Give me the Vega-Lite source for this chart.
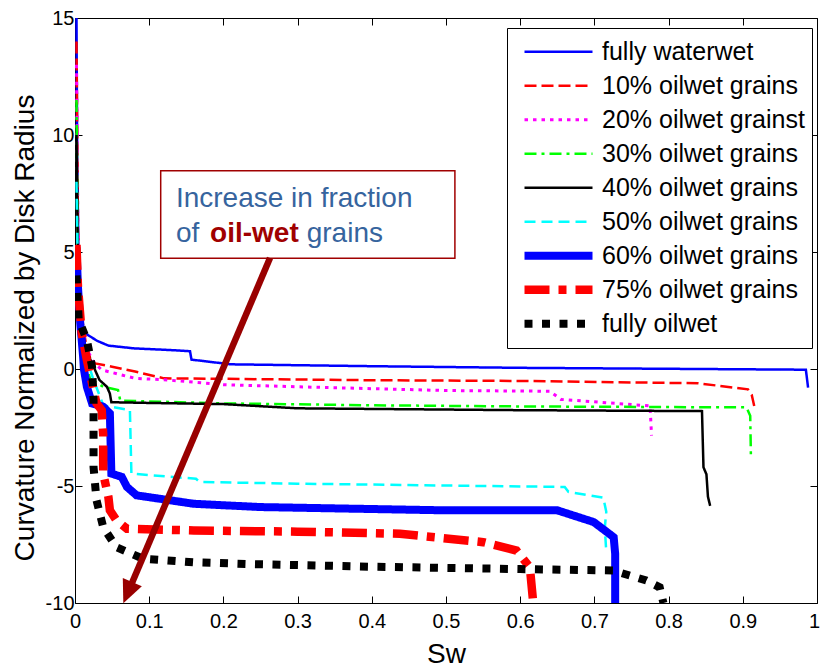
{
  "$schema": "https://vega.github.io/schema/vega-lite/v6.json",
  "width": 742,
  "height": 585,
  "autosize": {"type": "none"},
  "padding": {"left": 75, "top": 18, "right": 3, "bottom": 65},
  "background": "white",
  "config": {
    "view": {"stroke": "black", "strokeWidth": 1},
    "font": "Liberation Sans",
    "legend": {
      "title": null, "orient": "none", "legendX": 432, "legendY": 10,
      "labelFontSize": 25, "labelFont": "Liberation Sans", "labelColor": "black", "labelLimit": 400,
      "symbolType": "stroke", "symbolSize": 4624, "labelOffset": 5, "symbolOffset": 6,
      "clipHeight": 33.7, "rowPadding": 0,
      "strokeColor": "black", "fillColor": "white", "padding": 7
    }
  },
  "datasets": {
    "curves": [
      {"s":"fully waterwet","i":1,"sw":0.002,"c":15},
      {"s":"fully waterwet","i":2,"sw":0.003,"c":9},
      {"s":"fully waterwet","i":3,"sw":0.005,"c":4},
      {"s":"fully waterwet","i":4,"sw":0.008,"c":2},
      {"s":"fully waterwet","i":5,"sw":0.01,"c":1.6},
      {"s":"fully waterwet","i":6,"sw":0.02,"c":1.4},
      {"s":"fully waterwet","i":7,"sw":0.03,"c":1.2},
      {"s":"fully waterwet","i":8,"sw":0.045,"c":1.0},
      {"s":"fully waterwet","i":9,"sw":0.08,"c":0.88},
      {"s":"fully waterwet","i":10,"sw":0.135,"c":0.8},
      {"s":"fully waterwet","i":11,"sw":0.155,"c":0.76},
      {"s":"fully waterwet","i":12,"sw":0.157,"c":0.4},
      {"s":"fully waterwet","i":13,"sw":0.21,"c":0.2},
      {"s":"fully waterwet","i":14,"sw":0.4,"c":0.12},
      {"s":"fully waterwet","i":15,"sw":0.6,"c":0.05},
      {"s":"fully waterwet","i":16,"sw":0.985,"c":-0.03},
      {"s":"fully waterwet","i":17,"sw":0.988,"c":-0.8},

      {"s":"10% oilwet grains","i":1,"sw":0.002,"c":14},
      {"s":"10% oilwet grains","i":2,"sw":0.004,"c":6},
      {"s":"10% oilwet grains","i":3,"sw":0.008,"c":2.5},
      {"s":"10% oilwet grains","i":4,"sw":0.014,"c":1.2},
      {"s":"10% oilwet grains","i":5,"sw":0.02,"c":0.5},
      {"s":"10% oilwet grains","i":6,"sw":0.027,"c":0.24},
      {"s":"10% oilwet grains","i":7,"sw":0.05,"c":0.1},
      {"s":"10% oilwet grains","i":8,"sw":0.081,"c":-0.11},
      {"s":"10% oilwet grains","i":9,"sw":0.12,"c":-0.4},
      {"s":"10% oilwet grains","i":10,"sw":0.2,"c":-0.42},
      {"s":"10% oilwet grains","i":11,"sw":0.4,"c":-0.48},
      {"s":"10% oilwet grains","i":12,"sw":0.6,"c":-0.51},
      {"s":"10% oilwet grains","i":13,"sw":0.84,"c":-0.61},
      {"s":"10% oilwet grains","i":14,"sw":0.907,"c":-0.87},
      {"s":"10% oilwet grains","i":15,"sw":0.912,"c":-1.1},
      {"s":"10% oilwet grains","i":16,"sw":0.916,"c":-1.67},

      {"s":"20% oilwet grainst","i":1,"sw":0.002,"c":13},
      {"s":"20% oilwet grainst","i":2,"sw":0.004,"c":6},
      {"s":"20% oilwet grainst","i":3,"sw":0.008,"c":2.3},
      {"s":"20% oilwet grainst","i":4,"sw":0.015,"c":0.9},
      {"s":"20% oilwet grainst","i":5,"sw":0.025,"c":0.3},
      {"s":"20% oilwet grainst","i":6,"sw":0.036,"c":-0.04},
      {"s":"20% oilwet grainst","i":7,"sw":0.081,"c":-0.4},
      {"s":"20% oilwet grainst","i":8,"sw":0.125,"c":-0.47},
      {"s":"20% oilwet grainst","i":9,"sw":0.2,"c":-0.67},
      {"s":"20% oilwet grainst","i":10,"sw":0.3,"c":-0.76},
      {"s":"20% oilwet grainst","i":11,"sw":0.5,"c":-0.92},
      {"s":"20% oilwet grainst","i":12,"sw":0.64,"c":-0.95},
      {"s":"20% oilwet grainst","i":13,"sw":0.655,"c":-1.3},
      {"s":"20% oilwet grainst","i":14,"sw":0.775,"c":-1.58},
      {"s":"20% oilwet grainst","i":15,"sw":0.777,"c":-2.85},

      {"s":"30% oilwet grains","i":1,"sw":0.002,"c":11.5},
      {"s":"30% oilwet grains","i":2,"sw":0.004,"c":5},
      {"s":"30% oilwet grains","i":3,"sw":0.008,"c":2},
      {"s":"30% oilwet grains","i":4,"sw":0.013,"c":0.5},
      {"s":"30% oilwet grains","i":5,"sw":0.02,"c":-0.4},
      {"s":"30% oilwet grains","i":6,"sw":0.038,"c":-0.76},
      {"s":"30% oilwet grains","i":7,"sw":0.058,"c":-0.9},
      {"s":"30% oilwet grains","i":8,"sw":0.061,"c":-1.35},
      {"s":"30% oilwet grains","i":9,"sw":0.2,"c":-1.47},
      {"s":"30% oilwet grains","i":10,"sw":0.4,"c":-1.55},
      {"s":"30% oilwet grains","i":11,"sw":0.6,"c":-1.6},
      {"s":"30% oilwet grains","i":12,"sw":0.905,"c":-1.64},
      {"s":"30% oilwet grains","i":13,"sw":0.91,"c":-2.0},
      {"s":"30% oilwet grains","i":14,"sw":0.911,"c":-3.85},

      {"s":"40% oilwet grains","i":1,"sw":0.002,"c":10},
      {"s":"40% oilwet grains","i":2,"sw":0.004,"c":4.5},
      {"s":"40% oilwet grains","i":3,"sw":0.008,"c":2},
      {"s":"40% oilwet grains","i":4,"sw":0.015,"c":0.8},
      {"s":"40% oilwet grains","i":5,"sw":0.025,"c":0.1},
      {"s":"40% oilwet grains","i":6,"sw":0.033,"c":-0.47},
      {"s":"40% oilwet grains","i":7,"sw":0.043,"c":-0.76},
      {"s":"40% oilwet grains","i":8,"sw":0.047,"c":-1.05},
      {"s":"40% oilwet grains","i":9,"sw":0.049,"c":-1.42},
      {"s":"40% oilwet grains","i":10,"sw":0.1,"c":-1.45},
      {"s":"40% oilwet grains","i":11,"sw":0.2,"c":-1.5},
      {"s":"40% oilwet grains","i":12,"sw":0.3,"c":-1.68},
      {"s":"40% oilwet grains","i":13,"sw":0.6,"c":-1.76},
      {"s":"40% oilwet grains","i":14,"sw":0.845,"c":-1.8},
      {"s":"40% oilwet grains","i":15,"sw":0.847,"c":-4.2},
      {"s":"40% oilwet grains","i":16,"sw":0.851,"c":-4.5},
      {"s":"40% oilwet grains","i":17,"sw":0.853,"c":-5.45},
      {"s":"40% oilwet grains","i":18,"sw":0.856,"c":-5.85},

      {"s":"50% oilwet grains","i":1,"sw":0.002,"c":8},
      {"s":"50% oilwet grains","i":2,"sw":0.004,"c":4},
      {"s":"50% oilwet grains","i":3,"sw":0.008,"c":1.8},
      {"s":"50% oilwet grains","i":4,"sw":0.015,"c":0.5},
      {"s":"50% oilwet grains","i":5,"sw":0.025,"c":-0.47},
      {"s":"50% oilwet grains","i":6,"sw":0.034,"c":-1.2},
      {"s":"50% oilwet grains","i":7,"sw":0.038,"c":-1.55},
      {"s":"50% oilwet grains","i":8,"sw":0.074,"c":-1.76},
      {"s":"50% oilwet grains","i":9,"sw":0.076,"c":-4.47},
      {"s":"50% oilwet grains","i":10,"sw":0.105,"c":-4.55},
      {"s":"50% oilwet grains","i":11,"sw":0.163,"c":-4.69},
      {"s":"50% oilwet grains","i":12,"sw":0.168,"c":-4.83},
      {"s":"50% oilwet grains","i":13,"sw":0.3,"c":-4.9},
      {"s":"50% oilwet grains","i":14,"sw":0.5,"c":-4.98},
      {"s":"50% oilwet grains","i":15,"sw":0.66,"c":-5.04},
      {"s":"50% oilwet grains","i":16,"sw":0.665,"c":-5.25},
      {"s":"50% oilwet grains","i":17,"sw":0.712,"c":-5.5},
      {"s":"50% oilwet grains","i":18,"sw":0.716,"c":-6.1},
      {"s":"50% oilwet grains","i":19,"sw":0.714,"c":-6.8},
      {"s":"50% oilwet grains","i":20,"sw":0.716,"c":-7.8},

      {"s":"60% oilwet grains","i":1,"sw":0.002,"c":5.2},
      {"s":"60% oilwet grains","i":2,"sw":0.004,"c":3.5},
      {"s":"60% oilwet grains","i":3,"sw":0.007,"c":2.0},
      {"s":"60% oilwet grains","i":4,"sw":0.011,"c":0.5},
      {"s":"60% oilwet grains","i":5,"sw":0.012,"c":0},
      {"s":"60% oilwet grains","i":6,"sw":0.016,"c":-0.76},
      {"s":"60% oilwet grains","i":7,"sw":0.023,"c":-1.47},
      {"s":"60% oilwet grains","i":8,"sw":0.038,"c":-1.61},
      {"s":"60% oilwet grains","i":9,"sw":0.047,"c":-1.9},
      {"s":"60% oilwet grains","i":10,"sw":0.049,"c":-4.47},
      {"s":"60% oilwet grains","i":11,"sw":0.063,"c":-4.61},
      {"s":"60% oilwet grains","i":12,"sw":0.07,"c":-5.04},
      {"s":"60% oilwet grains","i":13,"sw":0.083,"c":-5.4},
      {"s":"60% oilwet grains","i":14,"sw":0.16,"c":-5.76},
      {"s":"60% oilwet grains","i":15,"sw":0.25,"c":-5.9},
      {"s":"60% oilwet grains","i":16,"sw":0.5,"c":-6.04},
      {"s":"60% oilwet grains","i":17,"sw":0.65,"c":-6.04},
      {"s":"60% oilwet grains","i":18,"sw":0.699,"c":-6.54},
      {"s":"60% oilwet grains","i":19,"sw":0.717,"c":-6.97},
      {"s":"60% oilwet grains","i":20,"sw":0.726,"c":-7.19},
      {"s":"60% oilwet grains","i":21,"sw":0.728,"c":-7.9},
      {"s":"60% oilwet grains","i":22,"sw":0.728,"c":-10},

      {"s":"75% oilwet grains","i":1,"sw":0.002,"c":5.3},
      {"s":"75% oilwet grains","i":2,"sw":0.004,"c":3.5},
      {"s":"75% oilwet grains","i":3,"sw":0.009,"c":1.53},
      {"s":"75% oilwet grains","i":4,"sw":0.016,"c":0.39},
      {"s":"75% oilwet grains","i":5,"sw":0.023,"c":-0.61},
      {"s":"75% oilwet grains","i":6,"sw":0.029,"c":-1.47},
      {"s":"75% oilwet grains","i":7,"sw":0.036,"c":-1.76},
      {"s":"75% oilwet grains","i":8,"sw":0.038,"c":-2.8},
      {"s":"75% oilwet grains","i":9,"sw":0.038,"c":-4.47},
      {"s":"75% oilwet grains","i":10,"sw":0.045,"c":-5.47},
      {"s":"75% oilwet grains","i":11,"sw":0.047,"c":-6.04},
      {"s":"75% oilwet grains","i":12,"sw":0.056,"c":-6.47},
      {"s":"75% oilwet grains","i":13,"sw":0.07,"c":-6.83},
      {"s":"75% oilwet grains","i":14,"sw":0.16,"c":-6.9},
      {"s":"75% oilwet grains","i":15,"sw":0.3,"c":-6.95},
      {"s":"75% oilwet grains","i":16,"sw":0.438,"c":-7.04},
      {"s":"75% oilwet grains","i":17,"sw":0.55,"c":-7.4},
      {"s":"75% oilwet grains","i":18,"sw":0.595,"c":-7.76},
      {"s":"75% oilwet grains","i":19,"sw":0.613,"c":-8.47},
      {"s":"75% oilwet grains","i":20,"sw":0.617,"c":-9.8},

      {"s":"fully oilwet","i":1,"sw":0.002,"c":4},
      {"s":"fully oilwet","i":2,"sw":0.005,"c":2.1},
      {"s":"fully oilwet","i":3,"sw":0.016,"c":1.24},
      {"s":"fully oilwet","i":4,"sw":0.023,"c":0.1},
      {"s":"fully oilwet","i":5,"sw":0.025,"c":-1.33},
      {"s":"fully oilwet","i":6,"sw":0.025,"c":-4.19},
      {"s":"fully oilwet","i":7,"sw":0.029,"c":-5.61},
      {"s":"fully oilwet","i":8,"sw":0.038,"c":-6.76},
      {"s":"fully oilwet","i":9,"sw":0.056,"c":-7.62},
      {"s":"fully oilwet","i":10,"sw":0.092,"c":-8.11},
      {"s":"fully oilwet","i":11,"sw":0.16,"c":-8.26},
      {"s":"fully oilwet","i":12,"sw":0.23,"c":-8.33},
      {"s":"fully oilwet","i":13,"sw":0.4,"c":-8.45},
      {"s":"fully oilwet","i":14,"sw":0.6,"c":-8.55},
      {"s":"fully oilwet","i":15,"sw":0.725,"c":-8.61},
      {"s":"fully oilwet","i":16,"sw":0.77,"c":-9.04},
      {"s":"fully oilwet","i":17,"sw":0.788,"c":-9.33},
      {"s":"fully oilwet","i":18,"sw":0.793,"c":-10}
    ],
    "box": [{"x1": 0.1155, "x2": 0.512, "y1": 8.47, "y2": 4.73}],
    "arrow": [{"x1": 0.2628, "y1": 4.74, "x2": 0.0712, "y2": -9.56}],
    "blueText": [
      {"t": "Increase in fraction", "ax": 0.136, "ay": 6.94},
      {"t": "of", "ax": 0.136, "ay": 5.44},
      {"t": "grains", "ax": 0.3123, "ay": 5.44}
    ],
    "redText": [{"t": "oil-wet", "ax": 0.182, "ay": 5.44}]
  },
  "layer": [
    {
      "data": {"name": "curves"},
      "mark": {"type": "line", "clip": true, "strokeCap": "butt", "strokeJoin": "miter"},
      "encoding": {
        "x": {
          "field": "sw", "type": "quantitative",
          "scale": {"domain": [0, 1], "nice": false, "zero": false},
          "axis": {
            "orient": "bottom",
            "values": [0, 0.1, 0.2, 0.3, 0.4, 0.5, 0.6, 0.7, 0.8, 0.9, 1],
            "labelExpr": "'' + datum.value",
            "labelFontSize": 20, "labelColor": "black", "labelFont": "Liberation Sans",
            "labelFlush": false, "labelOverlap": false, "labelPadding": 15,
            "labelOffset": {"condition": {"test": "datum.value === 1", "value": -3}, "value": 0},
            "domain": false, "grid": false,
            "ticks": true, "tickSize": -7, "tickColor": "black", "tickWidth": 1,
            "title": "Sw", "titleFontSize": 28, "titleFontWeight": "normal", "titleColor": "black",
            "titleFont": "Liberation Sans", "titleBaseline": "alphabetic", "titleY": 59
          }
        },
        "y": {
          "field": "c", "type": "quantitative",
          "scale": {"domain": [-10, 15], "nice": false, "zero": false},
          "axis": {
            "orient": "left",
            "values": [-10, -5, 0, 5, 10, 15],
            "labelExpr": "'' + datum.value",
            "labelFontSize": 20, "labelColor": "black", "labelFont": "Liberation Sans",
            "labelFlush": false, "labelOverlap": false, "labelPadding": 8,
            "domain": false, "grid": false,
            "ticks": true, "tickSize": -7, "tickColor": "black", "tickWidth": 1,
            "title": "Curvature Normalized by Disk Radius", "titleFontSize": 28,
            "titleFontWeight": "normal", "titleColor": "black", "titleFont": "Liberation Sans",
            "titleBaseline": "alphabetic", "titleX": -42, "titleY": 309.5, "titleAngle": 270
          }
        },
        "order": {"field": "i", "type": "quantitative"},
        "color": {
          "field": "s", "type": "nominal",
          "scale": {
            "domain": ["fully waterwet", "10% oilwet grains", "20% oilwet grainst", "30% oilwet grains", "40% oilwet grains", "50% oilwet grains", "60% oilwet grains", "75% oilwet grains", "fully oilwet"],
            "range": ["#0000ff", "#ff0000", "#ff00ff", "#00ff00", "#000000", "#00ffff", "#0000ff", "#ff0000", "#000000"]
          },
          "legend": {"title": null}
        },
        "strokeDash": {
          "field": "s", "type": "nominal",
          "scale": {
            "domain": ["fully waterwet", "10% oilwet grains", "20% oilwet grainst", "30% oilwet grains", "40% oilwet grains", "50% oilwet grains", "60% oilwet grains", "75% oilwet grains", "fully oilwet"],
            "range": [[1, 0], [12, 5], [3.5, 5], [12, 5, 3, 5], [1, 0], [11, 6], [1, 0], [25, 9, 8, 9], [8, 9.5]]
          },
          "legend": {"title": null}
        },
        "strokeWidth": {
          "field": "s", "type": "nominal",
          "scale": {
            "type": "ordinal",
            "domain": ["fully waterwet", "10% oilwet grains", "20% oilwet grainst", "30% oilwet grains", "40% oilwet grains", "50% oilwet grains", "60% oilwet grains", "75% oilwet grains", "fully oilwet"],
            "range": [2.5, 2.5, 3, 2.5, 2.5, 2.5, 8, 8.5, 8]
          },
          "legend": {"title": null}
        }
      }
    },
    {
      "data": {"name": "box"},
      "mark": {"type": "rect", "fill": "white", "stroke": "#a00000", "strokeWidth": 1.5},
      "encoding": {
        "x": {
          "field": "x1", "type": "quantitative",
          "scale": {"domain": [0, 1], "nice": false, "zero": false},
          "axis": {
            "orient": "top", "values": [0, 0.1, 0.2, 0.3, 0.4, 0.5, 0.6, 0.7, 0.8, 0.9, 1],
            "labels": false, "domain": false, "grid": false, "title": null,
            "ticks": true, "tickSize": -7, "tickColor": "black", "tickWidth": 1
          }
        },
        "x2": {"field": "x2"},
        "y": {
          "field": "y1", "type": "quantitative",
          "scale": {"domain": [-10, 15], "nice": false, "zero": false},
          "axis": {
            "orient": "right", "values": [-10, -5, 0, 5, 10, 15],
            "labels": false, "domain": false, "grid": false, "title": null,
            "ticks": true, "tickSize": -7, "tickColor": "black", "tickWidth": 1
          }
        },
        "y2": {"field": "y2"}
      }
    },
    {
      "data": {"name": "arrow"},
      "mark": {"type": "rule", "color": "#990000", "strokeWidth": 6.5},
      "encoding": {
        "x": {"field": "x1", "type": "quantitative", "scale": {"domain": [0, 1], "nice": false, "zero": false}, "axis": null},
        "y": {"field": "y1", "type": "quantitative", "scale": {"domain": [-10, 15], "nice": false, "zero": false}, "axis": null},
        "x2": {"field": "x2"},
        "y2": {"field": "y2"}
      }
    },
    {
      "data": {"name": "arrow"},
      "mark": {"type": "point", "shape": "M0,1L-0.9,-1L0.9,-1Z", "filled": true, "color": "#990000", "opacity": 1, "size": 529, "angle": 23},
      "encoding": {
        "x": {"field": "x2", "type": "quantitative", "scale": {"domain": [0, 1], "nice": false, "zero": false}, "axis": null},
        "y": {"field": "y2", "type": "quantitative", "scale": {"domain": [-10, 15], "nice": false, "zero": false}, "axis": null}
      }
    },
    {
      "data": {"name": "blueText"},
      "mark": {"type": "text", "align": "left", "baseline": "alphabetic", "fontSize": 28, "font": "Liberation Sans", "color": "#36649e"},
      "encoding": {
        "x": {"field": "ax", "type": "quantitative", "scale": {"domain": [0, 1], "nice": false, "zero": false}, "axis": null},
        "y": {"field": "ay", "type": "quantitative", "scale": {"domain": [-10, 15], "nice": false, "zero": false}, "axis": null},
        "text": {"field": "t"}
      }
    },
    {
      "data": {"name": "redText"},
      "mark": {"type": "text", "align": "left", "baseline": "alphabetic", "fontSize": 28, "font": "Liberation Sans", "fontWeight": "bold", "color": "#a00000"},
      "encoding": {
        "x": {"field": "ax", "type": "quantitative", "scale": {"domain": [0, 1], "nice": false, "zero": false}, "axis": null},
        "y": {"field": "ay", "type": "quantitative", "scale": {"domain": [-10, 15], "nice": false, "zero": false}, "axis": null},
        "text": {"field": "t"}
      }
    }
  ],
  "resolve": {"axis": {"x": "independent", "y": "independent"}}
}
